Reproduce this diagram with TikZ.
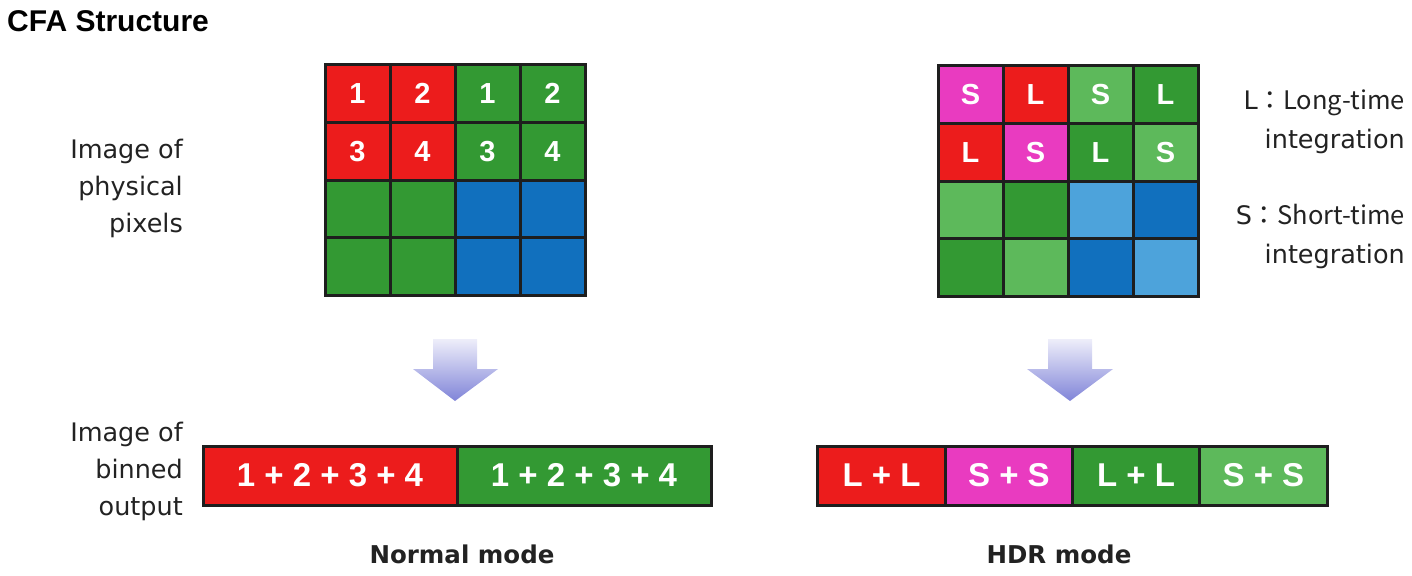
\documentclass[tikz,border=0pt]{standalone}
\usepackage{fontspec}
\setmainfont{DejaVu Sans}
\newfontfamily\hv{Liberation Sans}
\newfontfamily\cjk{Noto Sans CJK JP}
\usetikzlibrary{positioning}
\definecolor{cred}{HTML}{EC1C1C}
\definecolor{cgreen}{HTML}{339933}
\definecolor{cblue}{HTML}{1170BE}
\definecolor{cmag}{HTML}{E93BC0}
\definecolor{clgreen}{HTML}{5DB95B}
\definecolor{clblue}{HTML}{4DA3DB}
\definecolor{arrtop}{HTML}{EEEEFA}
\definecolor{arrbot}{HTML}{8084D8}
\definecolor{edge}{HTML}{1E1E1E}
\definecolor{txt}{HTML}{222222}
\tikzset{
  cell/.style={draw=edge, line width=3pt, minimum width=65pt, minimum height=57.5pt,
    inner sep=0pt, text=white, font=\hv\bfseries\fontsize{29}{32}\selectfont},
  barcell/.style={draw=edge, line width=3pt, minimum height=59pt,
    inner sep=0pt, text=white, font=\hv\bfseries\fontsize{33}{36}\selectfont},
  lbl/.style={align=right, inner sep=0pt, text=txt, font=\fontsize{25.5}{37}\selectfont},
  legend/.style={align=right, inner sep=0pt, text=txt, font=\fontsize{25.5}{39}\selectfont},
  modelbl/.style={inner sep=0pt, text=txt, font=\bfseries\fontsize{24.5}{30}\selectfont},
  blockarrow/.style={top color=arrtop, bottom color=arrbot}
}
\begin{document}
\begin{tikzpicture}[x=1pt,y=-1pt]
\useasboundingbox (0,0) rectangle (1412,575);
% title
\node[anchor=base west, inner sep=0pt, font=\hv\bfseries\fontsize{30}{36}\selectfont] (title) at (7,32) {CFA Structure};
% left grid
\foreach \col/\t [count=\i from 0] in {cred/1,cred/2,cgreen/1,cgreen/2,cred/3,cred/4,cgreen/3,cgreen/4,cgreen/{},cgreen/{},cblue/{},cblue/{},cgreen/{},cgreen/{},cblue/{},cblue/{}}
{
  \pgfmathtruncatemacro\cx{mod(\i,4)}
  \pgfmathtruncatemacro\ry{div(\i,4)}
  \node[cell, fill=\col] (a\i) at ({325+32.5+65*\cx},{65+28.75+57.5*\ry}) {\t};
}
% right grid
\foreach \col/\t [count=\i from 0] in {cmag/S,cred/L,clgreen/S,cgreen/L,cred/L,cmag/S,cgreen/L,clgreen/S,clgreen/{},cgreen/{},clblue/{},cblue/{},cgreen/{},clgreen/{},cblue/{},clblue/{}}
{
  \pgfmathtruncatemacro\cx{mod(\i,4)}
  \pgfmathtruncatemacro\ry{div(\i,4)}
  \node[cell, fill=\col] (b\i) at ({938+32.5+65*\cx},{66+28.75+57.5*\ry}) {\t};
}
% labels
\node[lbl, anchor=east] (phys) at (183,188) {Image of\\physical\\pixels};
\node[lbl, anchor=east] (binned) at (183,471) {Image of\\binned\\output};
\node[legend, anchor=east] (legL) at (1405,122) {L\cjk{：}Long-time\\integration};
\node[legend, anchor=east] (legS) at (1405,237) {S\cjk{：}Short-time\\integration};
% arrows
\shade[blockarrow] (433,339) -- (477,339) -- (477,369) -- (498,369) -- (455,401) -- (413,369) -- (433,369) -- cycle;
\shade[blockarrow] (1048,339) -- (1092,339) -- (1092,369) -- (1113,369) -- (1070,401) -- (1027,369) -- (1048,369) -- cycle;
% bars
\node[barcell, fill=cred, minimum width=254pt] (n1) at (330,475.5) {1 + 2 + 3 + 4};
\node[barcell, fill=cgreen, minimum width=254pt] (n2) at (584,475.5) {1 + 2 + 3 + 4};
\node[barcell, fill=cred, minimum width=127.25pt] (h1) at (881.6,475.5) {L + L};
\node[barcell, fill=cmag, minimum width=127.25pt] (h2) at (1008.9,475.5) {S + S};
\node[barcell, fill=cgreen, minimum width=127.25pt] (h3) at (1136.1,475.5) {L + L};
\node[barcell, fill=clgreen, minimum width=127.25pt] (h4) at (1263.4,475.5) {S + S};
% mode labels
\node[modelbl] (normal) at (462,554) {Normal mode};
\node[modelbl] (hdr) at (1059,554) {HDR mode};
\end{tikzpicture}
\end{document}
